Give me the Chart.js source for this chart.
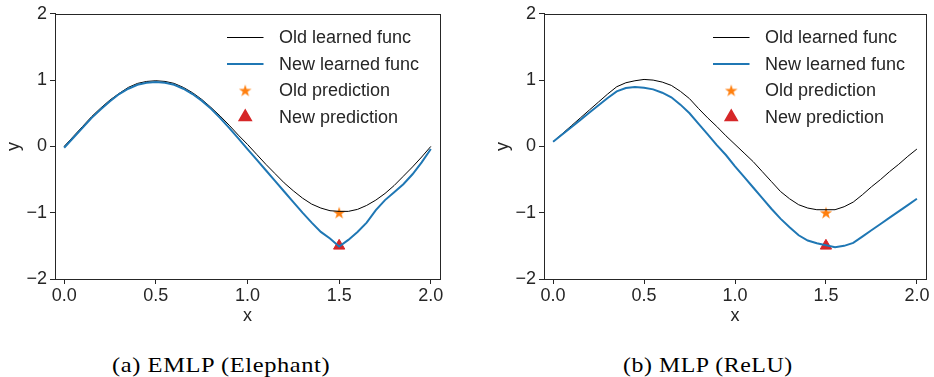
<!DOCTYPE html>
<html>
<head>
<meta charset="utf-8">
<script src="https://cdn.jsdelivr.net/npm/chart.js@4.4.1/dist/chart.umd.min.js"></script>
<style>
  body { margin: 0; background: #fff; width: 934px; height: 377px; position: relative; overflow: hidden; }
  canvas { position: absolute; top: 0; }
  #chartA { left: 0; }
  #chartB { left: 489px; }
  .cap { position: absolute; top: 353px; font-family: 'Liberation Serif', 'Times New Roman', serif; font-size: 21px; letter-spacing: 0.5px; color: #000; white-space: nowrap; line-height: 24px; transform-origin: 0 0; }
  #capA { left: 112px; }
  #capB { left: 623px; }
</style>
</head>
<body>
<canvas id="chartA" width="467" height="330"></canvas>
<canvas id="chartB" width="445" height="330"></canvas>
<div class="cap" id="capA"></div>
<div class="cap" id="capB"></div>
<script>
// sample positions along x
const xs = [0, 0.05, 0.1, 0.15, 0.2, 0.25, 0.3, 0.35, 0.4, 0.45, 0.5, 0.55, 0.6, 0.65, 0.7, 0.75, 0.8, 0.85, 0.9, 0.95,
            1, 1.05, 1.1, 1.15, 1.2, 1.25, 1.3, 1.35, 1.4, 1.45, 1.5, 1.55, 1.6, 1.65, 1.7, 1.75, 1.8, 1.85, 1.9, 1.95, 2];

// (a) EMLP (Elephant)
const oldA = [0.00, 0.15, 0.30, 0.45, 0.58, 0.70, 0.80, 0.89, 0.95, 0.98, 0.99, 0.98, 0.95, 0.89, 0.81, 0.71, 0.59, 0.46, 0.32, 0.17,
              0.03, -0.12, -0.27, -0.41, -0.55, -0.67, -0.78, -0.87, -0.93, -0.97, -0.98, -0.98, -0.95, -0.89, -0.81, -0.71, -0.59, -0.45, -0.31, -0.16, 0.00];
const newA = [-0.02, 0.13, 0.28, 0.43, 0.56, 0.68, 0.79, 0.87, 0.93, 0.96, 0.97, 0.96, 0.93, 0.87, 0.79, 0.69, 0.57, 0.43, 0.28, 0.12,
              -0.04, -0.20, -0.36, -0.52, -0.68, -0.84, -1.00, -1.15, -1.29, -1.39, -1.51, -1.41, -1.29, -1.15, -0.96, -0.81, -0.69, -0.57, -0.42, -0.24, -0.04];

// (b) MLP (ReLU)
const oldB = [0.07, 0.19, 0.31, 0.43, 0.55, 0.67, 0.79, 0.90, 0.96, 0.99, 1.01, 1.00, 0.97, 0.92, 0.83, 0.72, 0.57, 0.43, 0.30, 0.16,
              0.03, -0.10, -0.23, -0.38, -0.53, -0.68, -0.79, -0.88, -0.93, -0.955, -0.955, -0.955, -0.91, -0.84, -0.73, -0.61, -0.50, -0.38, -0.27, -0.15, -0.04];
const newB = [0.07, 0.18, 0.29, 0.40, 0.51, 0.62, 0.73, 0.83, 0.88, 0.895, 0.885, 0.86, 0.81, 0.74, 0.63, 0.50, 0.34, 0.18, 0.02, -0.13,
              -0.30, -0.46, -0.62, -0.78, -0.94, -1.09, -1.22, -1.34, -1.42, -1.46, -1.49, -1.52, -1.50, -1.455, -1.36, -1.265, -1.17, -1.075, -0.98, -0.885, -0.79];

// query point and the two predictions
const queryX = [1.5];
const oldPred = [-1.0];
const newPred = [-1.5];

const xTicks = [0, 0.5, 1, 1.5, 2];
const yTicks = [-2, -1, 0, 1, 2];
const seriesNames = ['Old learned func', 'New learned func', 'Old prediction', 'New prediction'];
const captions = ['(a) EMLP (Elephant)', '(b) MLP (ReLU)'];
const captionWidths = [218, 170];

const ink = '#262626';
const font = { family: "'Liberation Sans', Arial, sans-serif", size: 18 };

// filled five point star, like matplotlib's '*'
function starImage(color, r) {
  const c = document.createElement('canvas');
  const s = Math.ceil(r * 2 + 2);
  c.width = c.height = s;
  const g = c.getContext('2d');
  g.fillStyle = color;
  g.beginPath();
  for (let i = 0; i < 10; i++) {
    const rr = i % 2 ? r * 0.382 : r;
    const a = -Math.PI / 2 + i * Math.PI / 5;
    g.lineTo(s / 2 + rr * Math.cos(a), s / 2 + 0.5 + rr * Math.sin(a));
  }
  g.closePath();
  g.fill();
  return c;
}
const star = starImage('#ff7f0e', 6.6);

// top/right spines
const frame = {
  id: 'frame',
  afterDatasetsDraw(chart) {
    const {ctx, chartArea: a} = chart;
    ctx.save();
    ctx.strokeStyle = ink;
    ctx.lineWidth = 1;
    ctx.strokeRect(Math.round(a.left) + 0.5, Math.round(a.top) + 0.5,
                   Math.round(a.right) - Math.round(a.left), Math.round(a.bottom) - Math.round(a.top));
    ctx.restore();
  }
};

// legend in the upper right, no frame
const innerLegend = {
  id: 'innerLegend',
  afterDraw(chart) {
    const {ctx, chartArea: a} = chart;
    ctx.save();
    ctx.font = font.size + 'px ' + font.family;
    ctx.textBaseline = 'middle';
    chart.data.datasets.forEach((ds, i) => {
      const y = a.top + 23.7 + i * 26.5;
      const x0 = a.right - 213, x1 = a.right - 176.5;
      if (ds.showLine) {
        ctx.strokeStyle = ds.borderColor;
        ctx.lineWidth = ds.borderWidth;
        ctx.beginPath();
        ctx.moveTo(x0, y);
        ctx.lineTo(x1, y);
        ctx.stroke();
      } else {
        ctx.fillStyle = ds.backgroundColor;
        ctx.strokeStyle = ds.borderColor;
        Chart.helpers.drawPoint(ctx, {pointStyle: ds.pointStyle, rotation: 0, radius: ds.pointRadius, borderWidth: ds.pointBorderWidth || 0}, (x0 + x1) / 2, y);
      }
      ctx.fillStyle = ink;
      ctx.fillText(ds.label, a.right - 161, y + 1);
    });
    ctx.restore();
  }
};

function makeChart(id, oldY, newY, rightPad) {
  const pts = ys => xs.map((x, i) => ({x, y: ys[i]}));
  return new Chart(document.getElementById(id), {
    type: 'scatter',
    data: {
      datasets: [
        {label: seriesNames[0], data: pts(oldY), showLine: true, borderColor: '#000000', borderWidth: 1, pointRadius: 0, order: 1},
        {label: seriesNames[1], data: pts(newY), showLine: true, borderColor: '#1f77b4', borderWidth: 2, pointRadius: 0, order: 0},
        {label: seriesNames[2], data: queryX.map((x, i) => ({x, y: oldPred[i]})), pointStyle: star, pointRadius: 7,
         backgroundColor: '#ff7f0e', borderColor: '#ff7f0e', order: 2},
        {label: seriesNames[3], data: queryX.map((x, i) => ({x, y: newPred[i]})), pointStyle: 'triangle', pointRadius: 6.5,
         pointBorderWidth: 1, backgroundColor: '#d62728', borderColor: '#d62728', order: 3}
      ]
    },
    options: {
      responsive: false,
      animation: false,
      events: [],
      layout: { padding: { left: 0, right: rightPad, top: 12, bottom: 0 } },
      plugins: { legend: { display: false }, tooltip: { enabled: false } },
      scales: {
        x: {
          type: 'linear', min: -0.05, max: 2.05,
          afterBuildTicks: s => { s.ticks = xTicks.map(v => ({value: v})); },
          afterFit: s => { s.height = 51; },
          ticks: { font, color: ink, padding: 1, maxRotation: 0, autoSkip: false, callback: v => v.toFixed(1) },
          grid: { display: true, drawOnChartArea: false, drawTicks: true, tickLength: 5, tickColor: ink, tickWidth: 1 },
          border: { display: true, color: ink, width: 1 },
          title: { display: true, text: 'x', font, color: ink, padding: { top: 0, bottom: 3 } }
        },
        y: {
          type: 'linear', min: -2, max: 2,
          afterBuildTicks: s => { s.ticks = yTicks.map(v => ({value: v})); },
          afterFit: s => { s.width = 55; },
          ticks: { font, color: ink, padding: 3, callback: v => v < 0 ? '\u2212' + Math.abs(v) : String(v) },
          grid: { display: true, drawOnChartArea: false, drawTicks: true, tickLength: 5, tickColor: ink, tickWidth: 1 },
          border: { display: true, color: ink, width: 1 },
          title: { display: true, text: 'y', font, color: ink, padding: { top: 3, bottom: 0 } }
        }
      }
    },
    plugins: [frame, innerLegend]
  });
}

makeChart('chartA', oldA, newA, 27);
makeChart('chartB', oldB, newB, 6);
['capA', 'capB'].forEach((id, i) => {
  const el = document.getElementById(id);
  el.textContent = captions[i];
  el.style.transform = 'scaleX(' + (captionWidths[i] / el.offsetWidth) + ')';
});
</script>
</body>
</html>
